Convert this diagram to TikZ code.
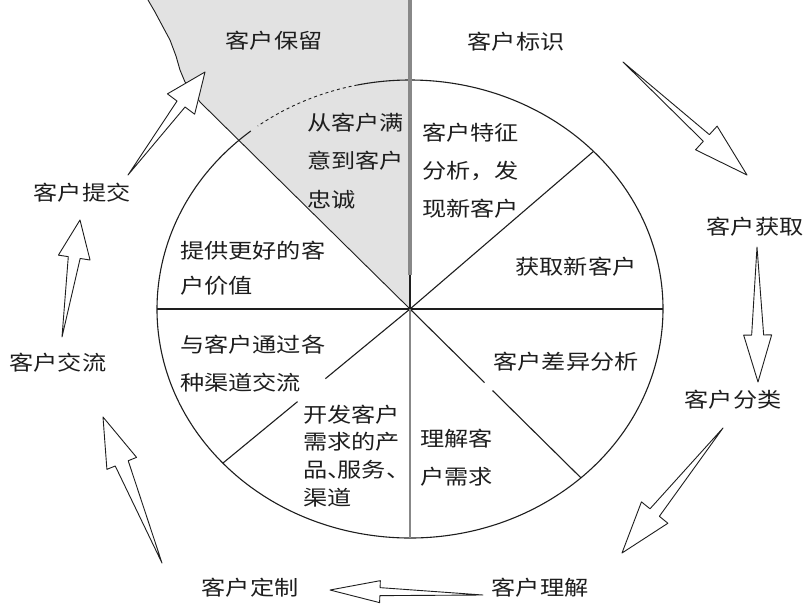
\documentclass[tikz,border=0pt]{standalone}
\usepackage{fontspec}
\newfontfamily\cjk{Noto Sans CJK SC}[FakeStretch=1.18]
\usetikzlibrary{calc}
\definecolor{shadegray}{RGB}{226,226,226}
\definecolor{midgray}{RGB}{136,136,136}
\definecolor{inkblack}{RGB}{30,30,30}
% tail, tip, head length, head half width, shaft half width
\newcommand{\hollowarrow}[5]{%
  \draw[blockarrow] (#1) -- ($(#2)!#3!(#1)!#5!-90:(#1)$) -- ($(#2)!#3!(#1)!#4!-90:(#1)$) -- (#2)
    -- ($(#2)!#3!(#1)!#4!90:(#1)$) -- ($(#2)!#3!(#1)!#5!90:(#1)$) -- cycle;}
\tikzset{
  lbl/.style={font={\cjk\fontsize{20.5}{24}\selectfont}, inner sep=0pt, text=inkblack},
  para/.style={lbl, align=left, anchor=north west},
  pieline/.style={draw=inkblack, line width=1.1pt},
  dashline/.style={draw=inkblack, line width=0.9pt, dash pattern=on 3pt off 3pt},
  blockarrow/.style={draw=inkblack, fill=white, line width=0.9pt, line join=round},
  edgeline/.style={draw=inkblack, line width=0.9pt, line join=round}
}
\begin{document}
\begin{tikzpicture}[x=1pt, y=-1pt]
\useasboundingbox (0,0) rectangle (806,608);
\fill[white] (0,0) rectangle (806,608);
\coordinate (c) at (410,309);
% shaded sector
\fill[shadegray] (148,0) -- (155,12) -- (163,27) -- (170,40) -- (176,56) -- (180,70)
  -- (185,82) -- (193,92) -- (200,102) -- (c) -- (410,0) -- cycle;
\draw[edgeline] (148,0) -- (155,12) -- (163,27) -- (170,40) -- (176,56) -- (180,70)
  -- (185,82) -- (193,92) -- (200,102) -- (c);
% ellipse
\draw[pieline] ($(c)+(129:253pt and 229pt)$) arc[start angle=129, end angle=450, x radius=253pt, y radius=229pt];
\draw[pieline] ($(c)+(90:253pt and 229pt)$) arc[start angle=90, end angle=102, x radius=253pt, y radius=229pt];
\draw[dashline] ($(c)+(102:253pt and 229pt)$) arc[start angle=102, end angle=127, x radius=253pt, y radius=229pt];
% spokes
\coordinate (pur) at ($(c)+(43.5:253pt and 229pt)$);
\coordinate (plr) at ($(c)+(-47.5:253pt and 229pt)$);
\coordinate (pll) at ($(c)+(222.3:253pt and 229pt)$);
\coordinate (pl) at ($(c)+(180:253pt and 229pt)$);
\coordinate (pr) at ($(c)+(0:253pt and 229pt)$);
\coordinate (pb) at ($(c)+(270:253pt and 229pt)$);
\draw[pieline] (c) -- (pur);
\draw[pieline] (c) -- ($(c)!0.436!(plr)$);
\draw[pieline] ($(c)!0.483!(plr)$) -- (plr);
\draw[pieline] (c) -- ($(c)!0.452!(pll)$);
\draw[pieline] ($(c)!0.601!(pll)$) -- (pll);
\draw[pieline] (pl) -- (pr);
\coordinate (vtop) at (410,0);
\coordinate (vmid) at (410,275);
\draw[midgray, line width=3.5pt] (vtop) -- (vmid);
\draw[pieline] (vmid) -- (c);
\draw[midgray, line width=2pt] (c) -- (pb);
% outer labels
\node[lbl] (keep) at (274,41) {客户保留};
\node[lbl] (ident) at (516,42) {客户标识};
\node[lbl] (acq) at (755,227) {客户获取};
\node[lbl] (cls) at (733,400) {客户分类};
\node[lbl] (und) at (540,588) {客户理解};
\node[lbl] (cust) at (250,588) {客户定制};
\node[lbl] (comm) at (58,363) {客户交流};
\node[lbl] (sub) at (82,193) {客户提交};
% inner labels
\node[para, font={\cjk\fontsize{20.5}{38.5}\selectfont}] (s1) at (307,112.5) {从客户满\\意到客户\\忠诚};
\node[para, font={\cjk\fontsize{20.5}{38}\selectfont}] (s2) at (422,123) {客户特征\\分析，发\\现新客户};
\node[lbl] (s3) at (576,267) {获取新客户};
\node[lbl] (s4) at (566,362) {客户差异分析};
\node[para, font={\cjk\fontsize{20.5}{38}\selectfont}] (s5) at (420,428.5) {理解客\\户需求};
\node[para, font={\cjk\fontsize{20.5}{27.8}\selectfont}] (s6) at (303,404.5) {开发客户\\需求的产\\品\makebox[0.5em][l]{、}服务\makebox[0.5em][l]{、}\\渠道};
\node[para, font={\cjk\fontsize{20.5}{38}\selectfont}] (s7) at (180,334.5) {与客户通过各\\种渠道交流};
\node[para, font={\cjk\fontsize{20.5}{35}\selectfont}] (s8) at (180,240.5) {提供更好的客\\户价值};
% cycle arrows
\coordinate (a1t) at (623,62);  \coordinate (a1h) at (747,175);
\coordinate (a2t) at (757,247); \coordinate (a2h) at (758,382);
\coordinate (a3t) at (723,428); \coordinate (a3h) at (622,553);
\coordinate (a4t) at (483,595); \coordinate (a4h) at (330,590);
\coordinate (a5t) at (162,563); \coordinate (a5h) at (103,417);
\coordinate (a6t) at (62,337);  \coordinate (a6h) at (80,220);
\coordinate (a7t) at (128,175); \coordinate (a7h) at (205,72);
\hollowarrow{a1t}{a1h}{55pt}{16pt}{4.5pt}
\hollowarrow{a2t}{a2h}{47pt}{14pt}{6pt}
\hollowarrow{a3t}{a3h}{52pt}{17pt}{6pt}
\hollowarrow{a4t}{a4h}{50pt}{11pt}{4pt}
\hollowarrow{a5t}{a5h}{50pt}{16pt}{7pt}
\hollowarrow{a6t}{a6h}{38pt}{16pt}{6pt}
\hollowarrow{a7t}{a7h}{40pt}{17pt}{5pt}
\end{tikzpicture}
\end{document}
